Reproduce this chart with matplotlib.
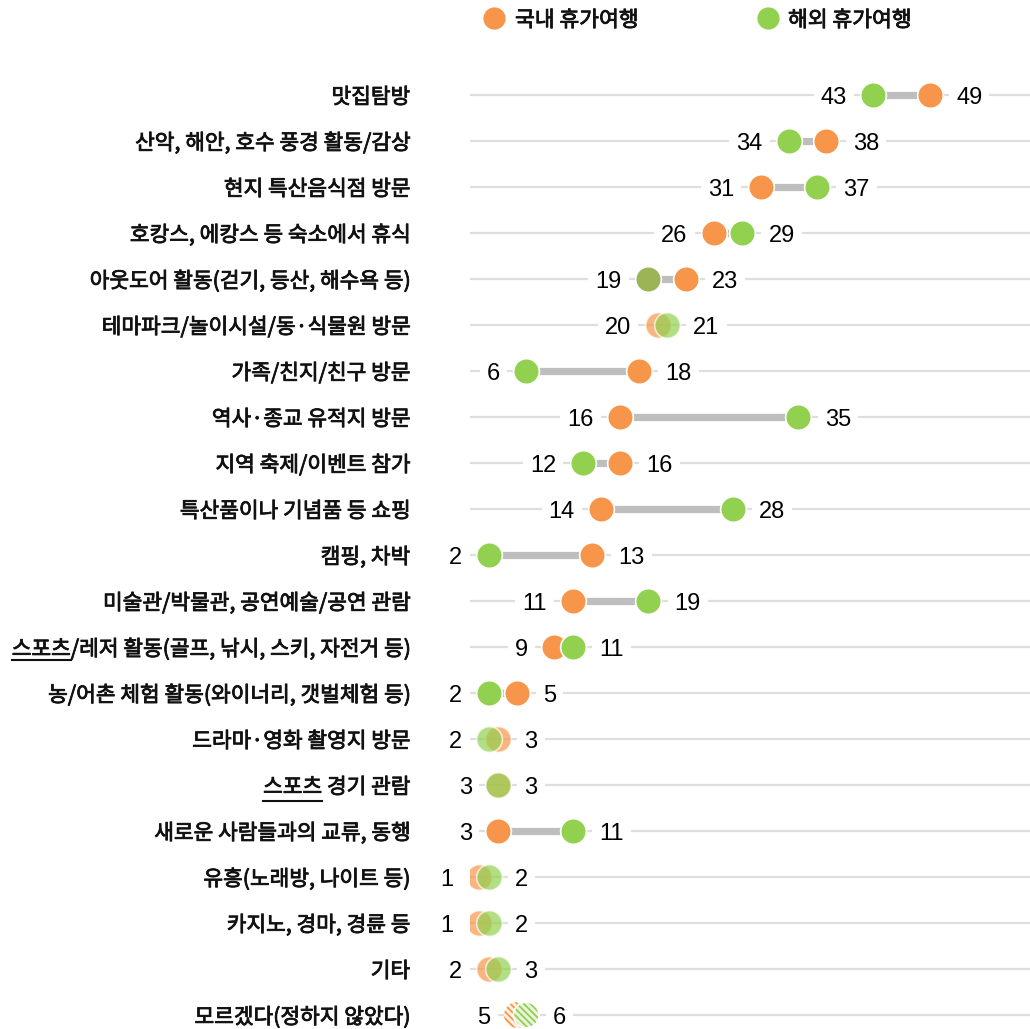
import matplotlib
matplotlib.use("Agg")
import matplotlib.pyplot as plt
from matplotlib.lines import Line2D
import matplotlib.patheffects as pe
from matplotlib.font_manager import FontProperties

plt.rcParams['font.family'] = ['Noto Sans CJK KR', 'DejaVu Sans']
plt.rcParams['hatch.linewidth'] = 1.3

categories = [
    "맛집탐방",
    "산악, 해안, 호수 풍경 활동/감상",
    "현지 특산음식점 방문",
    "호캉스, 에캉스 등 숙소에서 휴식",
    "아웃도어 활동(걷기, 등산, 해수욕 등)",
    "테마파크/놀이시설/동·식물원 방문",
    "가족/친지/친구 방문",
    "역사·종교 유적지 방문",
    "지역 축제/이벤트 참가",
    "특산품이나 기념품 등 쇼핑",
    "캠핑, 차박",
    "미술관/박물관, 공연예술/공연 관람",
    "스포츠/레저 활동(골프, 낚시, 스키, 자전거 등)",
    "농/어촌 체험 활동(와이너리, 갯벌체험 등)",
    "드라마·영화 촬영지 방문",
    "스포츠 경기 관람",
    "새로운 사람들과의 교류, 동행",
    "유흥(노래방, 나이트 등)",
    "카지노, 경마, 경륜 등",
    "기타",
    "모르겠다(정하지 않았다)",
]
domestic = [49, 38, 31, 26, 23, 20, 18, 16, 16, 14, 13, 11, 9, 5, 3, 3, 3, 1, 1, 2, 5]
overseas = [43, 34, 37, 29, 19, 21, 6, 35, 12, 28, 2, 19, 11, 2, 2, 3, 11, 2, 2, 3, 6]
series_names = ["국내 휴가여행", "해외 휴가여행"]

ORANGE = "#F7964A"
GREEN = "#92D050"
OLIVE = "#9BB556"
LINE_GRAY = "#BEBEBE"
GRID_GRAY = "#DEDEDE"
TXT = "#111111"

W, H = 1030, 1029
fig = plt.figure(figsize=(W / 100, H / 100), dpi=100)
x0_px, ax_top_px = 470, 72
ax = fig.add_axes([x0_px / W, 0, 1 - x0_px / W, (H - ax_top_px) / H])
ppu = 9.38
ax.set_xlim(0, (W - x0_px) / ppu)
ax.set_ylim(20 + (H - 1015) / 46, -0.5)
ax.axis('off')

CAT_FS = 15.4
bold_fx = [pe.withStroke(linewidth=0.6, foreground=TXT)]
num_font = ['Liberation Sans', 'DejaVu Sans']

n = len(categories)
label_texts = []
for i in range(n):
    d, o = domestic[i], overseas[i]
    ax.plot([0, ax.get_xlim()[1]], [i, i], color=GRID_GRAY, lw=1.6, zorder=1,
            solid_capstyle='butt')
    lo, hi = min(d, o), max(d, o)
    if hi - lo > 1:
        ax.plot([lo, hi], [i, i], color=LINE_GRAY, lw=5.2, zorder=2,
                solid_capstyle='butt')
    diff = abs(d - o)
    ms = 18.5
    if i == n - 1:
        ax.scatter([d], [i], s=ms ** 2, facecolor="#FDF1E6", edgecolor=ORANGE,
                   hatch='\\\\\\\\\\', linewidth=0, zorder=3)
        ax.scatter([o], [i], s=ms ** 2, facecolor="#EAF3DC", edgecolor=GREEN,
                   hatch='\\\\\\\\\\', linewidth=0, zorder=4)
        ax.scatter([o], [i], s=ms ** 2, facecolor='none', edgecolor='white',
                   linewidth=1.2, zorder=5)
    elif diff <= 1:
        ax.plot([d], [i], 'o', ms=ms, mfc=ORANGE, mec='white', mew=1.2,
                alpha=0.7, zorder=3)
        ax.plot([o], [i], 'o', ms=ms, mfc=GREEN, mec='white', mew=1.2,
                alpha=0.7, zorder=4)
    else:
        gcol = OLIVE if i == 4 else GREEN
        ax.plot([d], [i], 'o', ms=ms, mfc=ORANGE, mec='white', mew=1.2, zorder=3)
        ax.plot([o], [i], 'o', ms=ms, mfc=gcol, mec='white', mew=1.2, zorder=4)
    box = dict(boxstyle='square,pad=0.3', fc='white', ec='none')
    ax.annotate(str(lo), xy=(lo, i), xytext=(-19, 0), textcoords='offset points',
                ha='right', va='center_baseline', fontsize=17, color='black',
                family=num_font, bbox=box, zorder=6)
    ax.annotate(str(hi), xy=(hi, i), xytext=(19, 0), textcoords='offset points',
                ha='left', va='center_baseline', fontsize=17, color='black',
                family=num_font, bbox=box, zorder=6)
    t = ax.text((410 - x0_px) / ppu, i, categories[i], ha='right',
                va='center_baseline', fontsize=CAT_FS, color=TXT,
                clip_on=False, path_effects=bold_fx)
    label_texts.append(t)

# legend
fig.add_artist(Line2D([494 / W], [1 - 18 / H], marker='o', ms=16, color=ORANGE,
                      mec='none', transform=fig.transFigure))
fig.text(515 / W, 1 - 18 / H, series_names[0], ha='left', va='center_baseline',
         fontsize=15.5, color=TXT, path_effects=bold_fx)
fig.add_artist(Line2D([768 / W], [1 - 18 / H], marker='o', ms=16, color=GREEN,
                      mec='none', transform=fig.transFigure))
fig.text(788 / W, 1 - 18 / H, series_names[1], ha='left', va='center_baseline',
         fontsize=15.5, color=TXT, path_effects=bold_fx)

# underline "스포츠" in labels starting with it
fig.canvas.draw()
r = fig.canvas.get_renderer()
fp = FontProperties(family=['Noto Sans CJK KR'], size=CAT_FS)
for t in label_texts:
    s = t.get_text()
    if s.startswith("스포츠"):
        bb = t.get_window_extent(r)
        _, _, desc = r.get_text_width_height_descent(s, fp, ismath=False)
        w, _, _ = r.get_text_width_height_descent("스포츠", fp, ismath=False)
        base = bb.y0 + desc
        yb = base - 4
        fig.add_artist(Line2D([bb.x0 / W, (bb.x0 + w) / W], [yb / H, yb / H],
                              color=TXT, lw=1.5, transform=fig.transFigure))

fig.savefig("out.png", dpi=100)
